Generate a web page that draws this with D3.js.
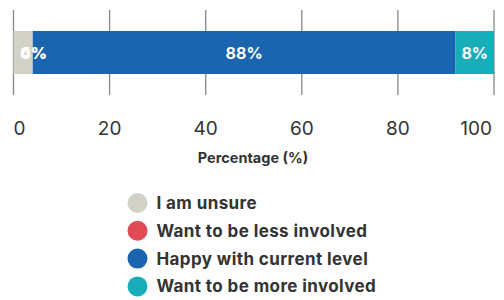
<!DOCTYPE html>
<html>
<head>
<meta charset="utf-8">
<script src="https://cdn.jsdelivr.net/npm/d3@7"></script>
<style>
  body { margin: 0; background: #fff; }
  text { font-family: Inter, "Open Sans", sans-serif; }
</style>
</head>
<body>
<div id="container"></div>
<script>
// data
var categories = ["I am unsure", "Want to be less involved", "Happy with current level", "Want to be more involved"];
var values = [4, 0, 88, 8];
var colors = ["#d1d1c5", "#e04b56", "#1a64b0", "#17aeba"];
var ticks = [0, 20, 40, 60, 80, 100];

var w = 504, h = 300;

var svg = d3.select("div#container")
  .append("svg")
  .attr("width", w)
  .attr("height", h);

var x = d3.scaleLinear().domain([0, 100]).range([13.5, 494]);

// stacked positions
var segs = [], acc = 0;
values.forEach(function(v, i) {
  segs.push({ name: categories[i], value: v, x0: acc, x1: acc + v, color: colors[i] });
  acc += v;
});

// gridlines
svg.append("g")
  .selectAll("line")
  .data(ticks)
  .enter().append("line")
  .attr("x1", d => x(d)).attr("x2", d => x(d))
  .attr("y1", 10).attr("y2", 95)
  .attr("stroke", "#888").attr("stroke-width", 1.3);

// bar
svg.append("g")
  .selectAll("rect")
  .data(segs)
  .enter().append("rect")
  .attr("x", d => x(d.x0))
  .attr("width", d => x(d.x1) - x(d.x0))
  .attr("y", 31).attr("height", 43)
  .attr("fill", d => d.color);

// value labels, kept inside the plot
svg.append("g")
  .selectAll("text")
  .data(segs)
  .enter().append("text")
  .attr("x", d => Math.max((x(d.x0) + x(d.x1)) / 2, x(0) + 20))
  .attr("y", 53)
  .attr("dy", "0.35em")
  .attr("text-anchor", "middle")
  .attr("fill", "#fff")
  .attr("font-weight", 700)
  .attr("font-size", 16)
  .text(d => d.value + "%");

// tick labels (end ones kept inside)
svg.append("g")
  .selectAll("text")
  .data(ticks)
  .enter().append("text")
  .attr("x", d => d === 0 ? x(d) : d === 100 ? x(d) - 2 : x(d))
  .attr("y", 135)
  .attr("text-anchor", d => d === 0 ? "start" : d === 100 ? "end" : "middle")
  .attr("fill", "#333")
  .attr("font-size", 19)
  .text(d => d);

svg.append("text")
  .attr("x", 253).attr("y", 163)
  .attr("text-anchor", "middle")
  .attr("fill", "#333")
  .attr("font-weight", 700)
  .attr("font-size", 14.5)
  .text("Percentage (%)");

// legend
var leg = svg.append("g")
  .selectAll("g")
  .data(segs)
  .enter().append("g")
  .attr("transform", (d, i) => "translate(137.5," + (203 + i * 27.8) + ")");

leg.append("circle")
  .attr("r", 10)
  .attr("fill", d => d.color);

leg.append("text")
  .attr("x", 19)
  .attr("dy", "0.35em")
  .attr("fill", "#333")
  .attr("font-weight", 700)
  .attr("font-size", 17)
  .attr("letter-spacing", 0.4)
  .text(d => d.name);
</script>
</body>
</html>
